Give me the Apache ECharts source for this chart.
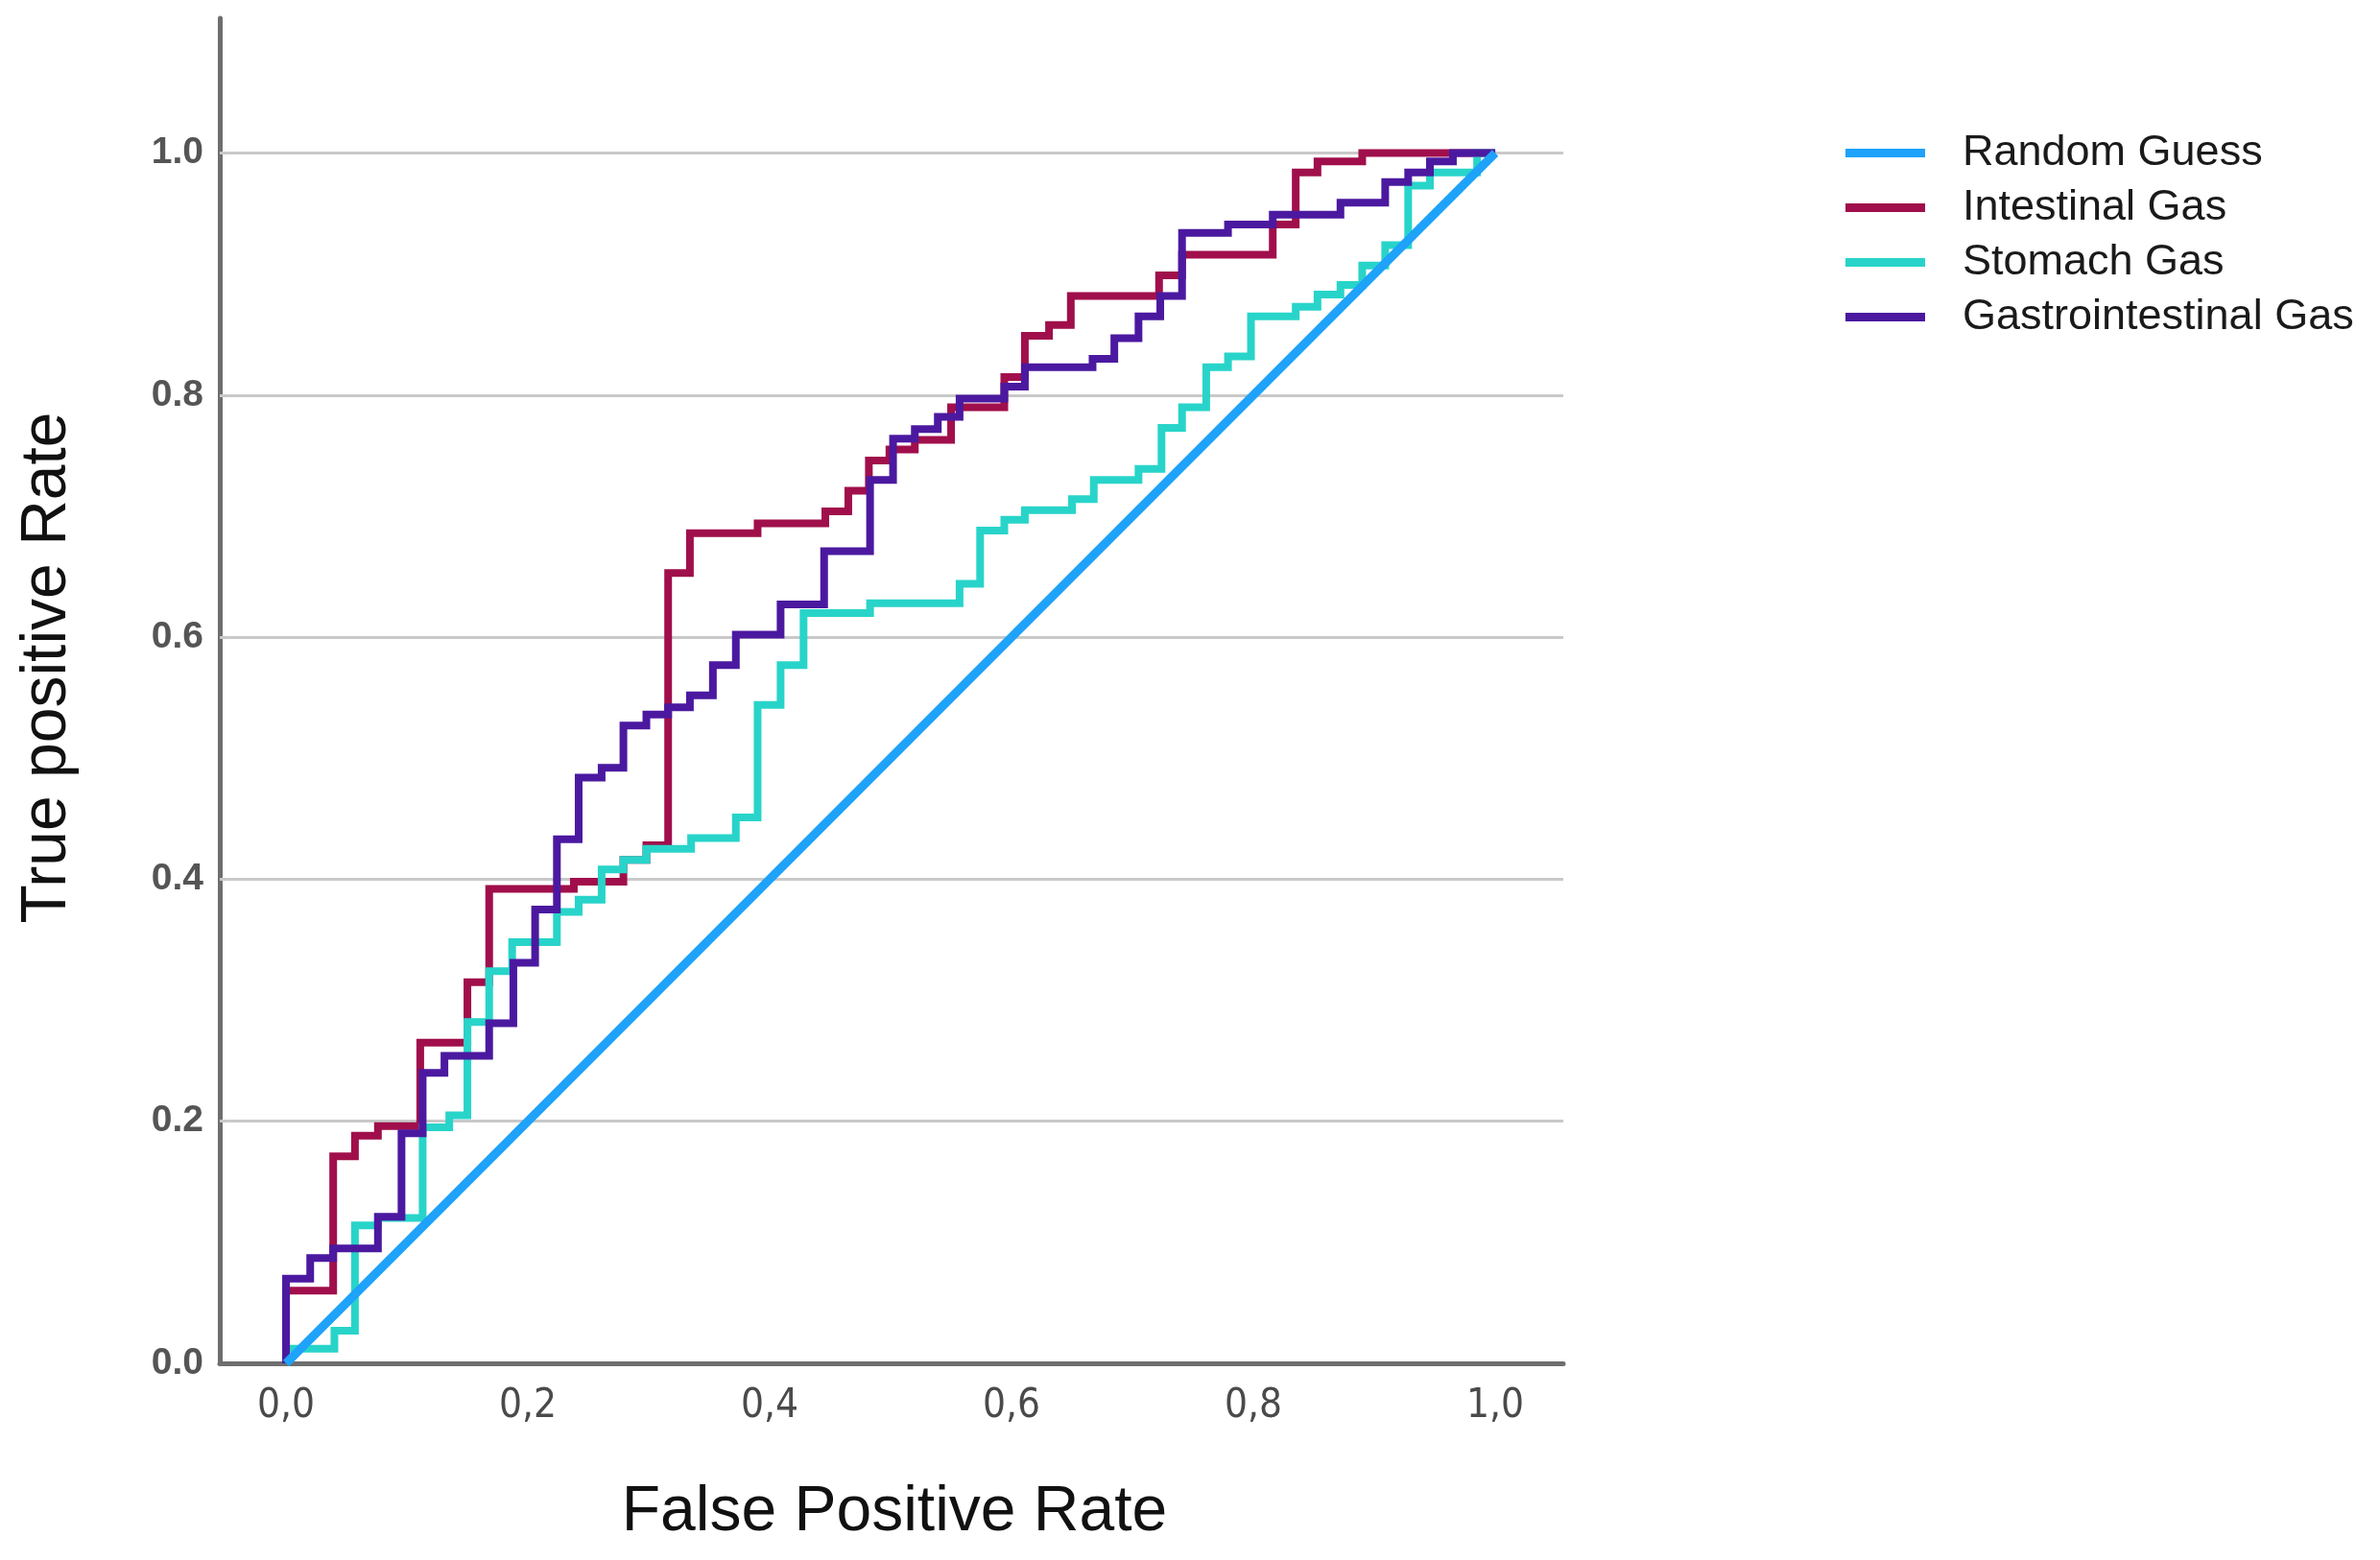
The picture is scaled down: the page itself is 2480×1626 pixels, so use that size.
<!DOCTYPE html>
<html><head><meta charset="utf-8">
<script src="https://cdn.jsdelivr.net/npm/echarts@6/dist/echarts.min.js"></script>
<style>html,body{margin:0;padding:0;background:#fff}#c{width:2480px;height:1626px}</style>
</head><body><div id="c"></div>
<script>
const seriesNames = ['Random Guess', 'Intestinal Gas', 'Stomach Gas', 'Gastrointestinal Gas'];
const xTicks = [0, 0.2, 0.4, 0.6, 0.8, 1.0];
const yTicks = [0, 0.2, 0.4, 0.6, 0.8, 1.0];
const gridValues = [0.2, 0.4, 0.6, 0.8, 1.0];

const randomFpr = [0, 1];
const randomTpr = [0, 1];

const intestinalFpr = [0, 0.039, 0.057, 0.076, 0.111, 0.150, 0.168, 0.238, 0.279, 0.298, 0.316, 0.334, 0.390, 0.446, 0.465, 0.482, 0.499, 0.520, 0.550, 0.594, 0.611, 0.631, 0.649, 0.722, 0.741, 0.816, 0.835, 0.853, 0.890, 1.0];
const intestinalTpr = [0, 0.060, 0.171, 0.188, 0.196, 0.265, 0.315, 0.392, 0.398, 0.416, 0.428, 0.653, 0.686, 0.694, 0.704, 0.721, 0.746, 0.755, 0.763, 0.790, 0.815, 0.849, 0.858, 0.882, 0.899, 0.916, 0.941, 0.984, 0.993, 1.0];

const stomachFpr = [0, 0.040, 0.057, 0.076, 0.113, 0.135, 0.150, 0.168, 0.187, 0.224, 0.242, 0.261, 0.279, 0.298, 0.335, 0.372, 0.390, 0.409, 0.428, 0.483, 0.557, 0.574, 0.594, 0.611, 0.650, 0.668, 0.705, 0.724, 0.741, 0.761, 0.779, 0.798, 0.835, 0.853, 0.872, 0.890, 0.909, 0.928, 0.946, 0.985, 1.0];
const stomachTpr = [0, 0.012, 0.027, 0.114, 0.120, 0.195, 0.205, 0.282, 0.324, 0.348, 0.373, 0.383, 0.408, 0.416, 0.425, 0.434, 0.451, 0.544, 0.577, 0.620, 0.628, 0.644, 0.688, 0.697, 0.705, 0.714, 0.730, 0.739, 0.773, 0.790, 0.823, 0.832, 0.865, 0.873, 0.883, 0.891, 0.907, 0.924, 0.973, 0.984, 1.0];

const giFpr = [0, 0.020, 0.039, 0.076, 0.0955, 0.113, 0.131, 0.168, 0.188, 0.206, 0.224, 0.242, 0.261, 0.279, 0.298, 0.316, 0.334, 0.353, 0.372, 0.409, 0.445, 0.483, 0.502, 0.520, 0.539, 0.557, 0.594, 0.611, 0.667, 0.685, 0.705, 0.723, 0.741, 0.779, 0.816, 0.872, 0.909, 0.928, 0.946, 0.965, 1.0];
const giTpr = [0, 0.070, 0.087, 0.095, 0.121, 0.190, 0.240, 0.254, 0.281, 0.331, 0.375, 0.433, 0.484, 0.492, 0.527, 0.536, 0.542, 0.552, 0.577, 0.602, 0.627, 0.671, 0.730, 0.764, 0.772, 0.782, 0.797, 0.807, 0.823, 0.830, 0.847, 0.865, 0.882, 0.934, 0.941, 0.949, 0.959, 0.976, 0.984, 0.993, 1.0];

const colors = ['#1ea2fa', '#a00f4b', '#28d4c9', '#4b19a0'];

function pairs(a, b) { return a.map((v, i) => [v, b[i]]); }

const chart = echarts.init(document.getElementById('c'), null, {renderer: 'canvas'});
const lineBase = {type: 'line', symbol: 'none', showSymbol: false, silent: true, animation: false};
const option = {
  animation: false,
  backgroundColor: '#ffffff',
  grid: {left: 229, right: 851, top: 19, bottom: 205},
  xAxis: {
    type: 'value', min: -0.0548, max: 1.0563,
    axisLine: {show: true, lineStyle: {color: '#6e6e6e', width: 5}},
    axisTick: {show: false},
    splitLine: {show: false},
    axisLabel: {
      customValues: xTicks, margin: 24,
      fontFamily: "'Liberation Sans Narrow', 'DejaVu Sans Condensed', sans-serif",
      fontSize: 42, color: '#4a4a4a',
      formatter: v => v.toFixed(1).replace('.', ',')
    }
  },
  yAxis: {
    type: 'value', min: 0, max: 1.1114,
    axisLine: {show: true, onZero: false, lineStyle: {color: '#6e6e6e', width: 5}},
    axisTick: {show: false},
    splitLine: {show: false},
    axisLabel: {
      customValues: yTicks, margin: 17,
      fontFamily: "'Liberation Sans', Arial, sans-serif", fontWeight: 'bold',
      fontSize: 39, color: '#555555', padding: [12, 0, 0, 0],
      formatter: v => v.toFixed(1)
    }
  },
  legend: {
    orient: 'vertical', left: 1918, top: 132,
    data: seriesNames, icon: 'rect', itemWidth: 83, itemHeight: 9, itemGap: 12,
    selectedMode: false,
    textStyle: {fontFamily: "'Liberation Sans', Arial, sans-serif", fontSize: 45, lineHeight: 45, color: '#1a1a1a', padding: [0, 0, 0, 34]}
  },
  graphic: [
    {type: 'text', x: 932, y: 1577, style: {text: 'False Positive Rate', font: "66px 'Liberation Sans', Arial, sans-serif", fill: '#111', align: 'center', verticalAlign: 'middle', textAlign: 'center', textVerticalAlign: 'middle'}},
    {type: 'text', x: 50, y: 696, rotation: Math.PI / 2, style: {text: 'True positive Rate', font: "66px 'Liberation Sans', Arial, sans-serif", fill: '#111', align: 'center', verticalAlign: 'middle', textAlign: 'center', textVerticalAlign: 'middle'}}
  ],
  series: [
    Object.assign({}, lineBase, {
      name: '_grid', data: [], z: 1,
      markLine: {silent: true, symbol: 'none', animation: false, z: 1, zlevel: 0, label: {show: false},
        lineStyle: {color: '#c9c9c9', width: 3, type: 'solid'},
        data: gridValues.map(v => ({yAxis: v}))}
    }),
    Object.assign({}, lineBase, {name: seriesNames[0], data: pairs(randomFpr, randomTpr), z: 6, lineStyle: {color: colors[0], width: 9}, itemStyle: {color: colors[0]}}),
    Object.assign({}, lineBase, {name: seriesNames[1], data: pairs(intestinalFpr, intestinalTpr), step: 'start', z: 3, lineStyle: {color: colors[1], width: 8, join: 'miter'}, itemStyle: {color: colors[1]}}),
    Object.assign({}, lineBase, {name: seriesNames[2], data: pairs(stomachFpr, stomachTpr), step: 'start', z: 4, lineStyle: {color: colors[2], width: 8, join: 'miter'}, itemStyle: {color: colors[2]}}),
    Object.assign({}, lineBase, {name: seriesNames[3], data: pairs(giFpr, giTpr), step: 'start', z: 5, lineStyle: {color: colors[3], width: 8, join: 'miter'}, itemStyle: {color: colors[3]}})
  ]
};
chart.setOption(option);
</script></body></html>
